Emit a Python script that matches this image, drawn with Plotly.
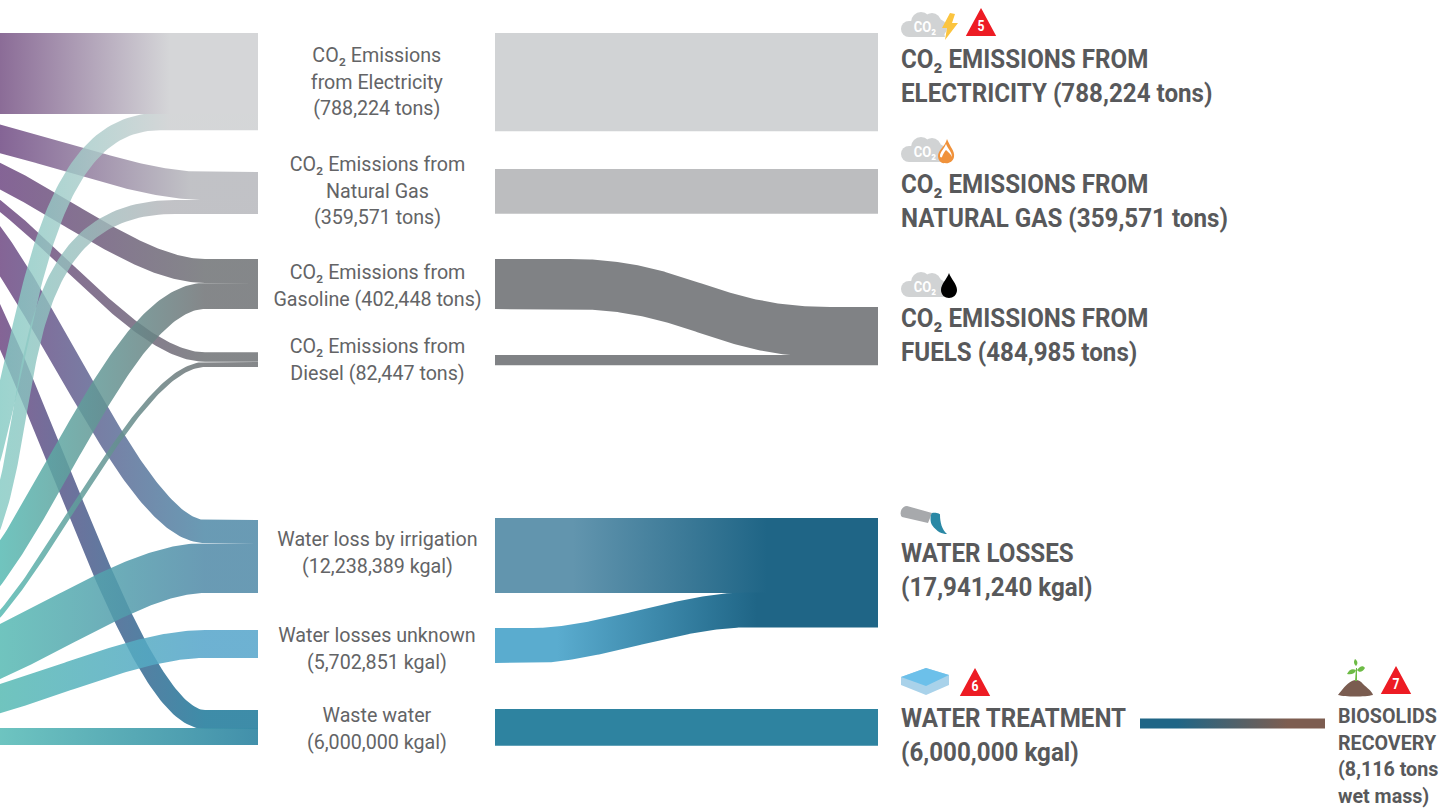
import numpy as np
import plotly.graph_objects as go

FONT = "Roboto"
TONS_PER_PX = 8030.0
KGAL_PER_PX = 163000.0

# ---- data: flows (left panel), in the unit of each block
co2_sources = ["Electricity", "Natural Gas", "Gasoline", "Diesel"]
co2_from_a = [650000, 225000, 193000, 76000]
co2_from_b = [140000, 112000, 209000, 40000]
water_sources = ["Water loss by irrigation", "Water losses unknown", "Waste water"]
water_from_a = [3750000, 0, 3100000]
water_from_b = [8150000, 4560000, 2770000]
# ---- data: nodes (middle panel)
co2_node_tons = [788224, 359571, 402448, 82447]
co2_fuels_tons = 484985
water_node_kgal = [12238389, 5702851, 6000000]
water_losses_kgal = 17941240
biosolids_tons = 8116

mid_labels = [
    ("CO₂ Emissions<br>from Electricity<br>(788,224 tons)", 81),
    ("CO₂ Emissions from<br>Natural Gas<br>(359,571 tons)", 190),
    ("CO₂ Emissions from<br>Gasoline (402,448 tons)", 285),
    ("CO₂ Emissions from<br>Diesel (82,447 tons)", 359),
    ("Water loss by irrigation<br>(12,238,389 kgal)", 552),
    ("Water losses unknown<br>(5,702,851 kgal)", 648),
    ("Waste water<br>(6,000,000 kgal)", 728),
]
right_labels = [
    ("CO₂ EMISSIONS FROM<br>ELECTRICITY (788,224 tons)", 899, 76),
    ("CO₂ EMISSIONS FROM<br>NATURAL GAS (359,571 tons)", 899, 201),
    ("CO₂ EMISSIONS FROM<br>FUELS (484,985 tons)", 899, 335),
    ("WATER LOSSES<br>(17,941,240 kgal)", 899, 570),
    ("WATER TREATMENT<br>(6,000,000 kgal)", 899, 735),
]


def bez(p0, p1, p2, p3, n=120):
    t = np.linspace(0, 1, n)[:, None]
    p0, p1, p2, p3 = map(np.array, (p0, p1, p2, p3))
    return (1-t)**3*p0 + 3*(1-t)**2*t*p1 + 3*(1-t)*t**2*p2 + t**3*p3


def ribbon(fig, x0, y0, x1, y1, w, c0, c1, xend, colors, grad, name, xstart=None, taper=1.0, vertical=False):
    d = x1 - x0
    pts = bez((x0, y0), (x0+c0*d, y0), (x1-c1*d, y1), (x1, y1))
    ws = np.linspace(w*taper, w, len(pts))
    if xstart is not None:
        pts = np.vstack([[xstart, y0], pts])
        ws = np.r_[ws[0], ws]
    pts = np.vstack([pts, [xend, y1]])
    ws = np.r_[ws, w]
    if vertical:
        nor = np.c_[np.zeros(len(pts)), np.ones(len(pts))]
    else:
        tan = np.gradient(pts, axis=0)
        tan /= np.maximum(np.linalg.norm(tan, axis=1, keepdims=True), 1e-9)
        nor = np.c_[-tan[:, 1], tan[:, 0]]
    up = pts + nor*ws[:, None]/2
    lo = pts - nor*ws[:, None]/2
    xs = np.r_[up[:, 0], lo[::-1, 0], up[0, 0]]
    ys = np.r_[up[:, 1], lo[::-1, 1], up[0, 1]]
    fig.add_trace(go.Scatter(
        x=xs, y=ys, mode="lines", line=dict(width=0), fill="toself", name=name,
        hoverinfo="name", showlegend=False,
        fillgradient=dict(type="horizontal", colorscale=colors, start=grad[0], stop=grad[1]),
    ))


def cs(a, b, alpha=0.85):
    # a and b are the looks wanted on white; undo the white showing through
    def fix(c):
        v = [max(0, min(255, (p - 255*(1-alpha))/alpha)) for p in c]
        return f"rgba({v[0]:.0f},{v[1]:.0f},{v[2]:.0f},{alpha})"
    return [[0, fix(a)], [1, fix(b)]]


fig = go.Figure()
PUR = (133, 100, 150)
TEAL = (112, 196, 190)
LTEAL = (155, 212, 206)
LG = (213, 214, 216)
MG = (193, 194, 198)
DG = (133, 135, 138)
WB = (105, 155, 180)
W2 = (110, 178, 210)
W3 = (62, 140, 168)

Xp, Xt = -75, -85
# purple-origin ribbons
ribbon(fig, Xp, 128, 205, 186, co2_from_a[1]/TONS_PER_PX, .3, .3, 258, cs(PUR, MG), (0, 190), "Natural gas a")
ribbon(fig, Xp, 154, 205, 271, co2_from_a[2]/TONS_PER_PX, .3, .3, 258, cs(PUR, DG), (0, 205), "Gasoline a")
ribbon(fig, Xp, 171, 205, 357, co2_from_a[3]/TONS_PER_PX, .3, .3, 258, cs(PUR, DG), (0, 205), "Diesel a")
ribbon(fig, Xp, 186, 205, 531.5, water_from_a[0]/KGAL_PER_PX, .3, .3, 258, cs(PUR, WB), (0, 205), "Irrigation a", taper=1.35)
ribbon(fig, -90, 207, 205, 719.5, water_from_a[2]/KGAL_PER_PX, .3, .3, 258, cs(PUR, W3), (0, 205), "Waste a")
# teal-origin ribbons
ribbon(fig, -120, 612, 175, 207, co2_from_b[1]/TONS_PER_PX, .735, .80, 258, cs(LTEAL, MG, .8), (0, 165), "Natural gas b")
ribbon(fig, -120, 596, 160, 121.5, co2_from_b[0]/TONS_PER_PX, .603, .653, 258, cs(LTEAL, LG, .8), (0, 170), "Electricity b", taper=1.15)
ribbon(fig, Xt, 632, 205, 296, co2_from_b[2]/TONS_PER_PX, .35, .35, 258, cs(TEAL, DG), (0, 205), "Gasoline b")
ribbon(fig, -60, 655, 205, 364.5, co2_from_b[3]/TONS_PER_PX, .3, .3, 258, cs(TEAL, DG), (0, 205), "Diesel b")
ribbon(fig, Xt, 675, 205, 568, water_from_b[0]/KGAL_PER_PX, .3, .3, 258, cs(TEAL, WB), (0, 205), "Irrigation b")
ribbon(fig, Xt, 714, 205, 644, water_from_b[1]/KGAL_PER_PX, .3, .3, 258, cs(TEAL, W2), (0, 205), "Unknown")


def band(fig, x0, x1, y0, h, colors, grad, name):
    fig.add_trace(go.Scatter(
        x=[x0, x1, x1, x0, x0], y=[y0, y0, y0+h, y0+h, y0], mode="lines", line=dict(width=0),
        fill="toself", name=name, hoverinfo="name", showlegend=False,
        fillgradient=dict(type="horizontal", colorscale=colors, start=grad[0], stop=grad[1]),
    ))


band(fig, -10, 258, 33, co2_from_a[0]/TONS_PER_PX, cs((139, 108, 151), (213, 214, 216), 1), (0, 170), "Electricity a")
band(fig, -10, 258, 728, water_from_b[2]/KGAL_PER_PX, cs((110, 196, 192), (66, 144, 170), .95), (0, 258), "Waste b")


def solid(c):
    return [[0, c], [1, c]]


# middle panel
band(fig, 495, 878, 33, co2_node_tons[0]/TONS_PER_PX, solid("#d1d3d5"), (495, 878), "Electricity")
band(fig, 495, 878, 169, co2_node_tons[1]/TONS_PER_PX, solid("#bcbdbf"), (495, 878), "Natural gas")
gw = co2_node_tons[2]/TONS_PER_PX
dw = co2_node_tons[3]/TONS_PER_PX
ribbon(fig, 570, 259+gw/2, 830, 307+gw/2, gw, .45, .45, 878, solid("#808285"), (495, 878), "Gasoline", xstart=495, vertical=True)
band(fig, 495, 878, 355, dw, solid("#808285"), (495, 878), "Diesel")
iw = water_node_kgal[0]/KGAL_PER_PX
uw = water_node_kgal[1]/KGAL_PER_PX
band(fig, 495, 878, 518, iw, [[0, "#6295ae"], [1, "#1f6586"]], (573, 767), "Irrigation")
ribbon(fig, 533, 628+uw/2, 745, 592.5+uw/2, uw, .3, .3, 878, [[0, "#5aaccf"], [1, "#1f6586"]], (557, 757), "Unknown m", xstart=495, vertical=True)
band(fig, 495, 878, 709, water_node_kgal[2]/KGAL_PER_PX, solid("#2e83a0"), (495, 878), "Waste water")
band(fig, 1140, 1325, 718.5, biosolids_tons/812, [[0, "#1f6586"], [.2, "#1f6586"], [.8, "#7d5d50"], [1, "#7d5d50"]], (1140, 1325), "Biosolids")

# text
ann = []
for t, y in mid_labels:
    ann.append(dict(x=377, y=y, text=t, showarrow=False, xanchor="center", yanchor="middle",
                    font=dict(family=FONT, size=20.5, color="#636466")))
for t, x, y in right_labels:
    ann.append(dict(x=x, y=y, text=t, showarrow=False, xanchor="left", yanchor="middle", align="left",
                    font=dict(family=FONT, size=26, color="#58595b", weight="bold")))
ann.append(dict(x=1336, y=755.5, text="BIOSOLIDS<br>RECOVERY<br>(8,116 tons<br>wet mass)", showarrow=False,
                xanchor="left", yanchor="middle", align="left",
                font=dict(family=FONT, size=20.5, color="#58595b", weight="bold")))

# icons
shapes = []
def path(d, c):
    shapes.append(dict(type="path", path=d, fillcolor=c, line=dict(width=0), xref="x", yref="y", layer="above"))
def circ(cx, cy, r, c):
    shapes.append(dict(type="circle", x0=cx-r, x1=cx+r, y0=cy-r, y1=cy+r, fillcolor=c, line=dict(width=0), xref="x", yref="y", layer="above"))

def cloud(x, y):
    c = "#d1d3d4"
    circ(x+8, y+17, 8, c); circ(x+20, y+10, 10, c); circ(x+31, y+10, 9, c); circ(x+37, y+16, 9, c)
    path(f"M{x+8},{y+9} L{x+40},{y+9} L{x+44},{y+25} L{x+8},{y+25} Z", c)
    ann.append(dict(x=x+24, y=y+15, text="CO₂", showarrow=False, font=dict(family=FONT, size=15, color="white", weight="bold")))

def tri(cx, top, n):
    w = 14.5; h = 27
    shapes.append(dict(type="path", path=f"M{cx},{top+1} L{cx+w-1},{top+h-1} L{cx-w+1},{top+h-1} Z", fillcolor="#ed1c24",
                       line=dict(width=2, color="#ed1c24"), xref="x", yref="y", layer="above"))
    ann.append(dict(x=cx, y=top+17, text=str(n), showarrow=False, font=dict(family=FONT, size=14, color="white", weight="bold")))

cloud(901, 12)
path("M950,13 L942,28 L947,28 L945,40 L958,23 L952,23 L955,14 Z", "#fbc43f")
tri(981, 9, 5)
cloud(901, 137)
path("M947,139 C950,147 955,151 954,157 C953,162 948,164 945,163 C941,164 938,160 938,156 C938,150 945,147 947,139 Z", "#f0923b")
path("M946,144 C944,149 940,152 940,156 C940,157 941,158 942,157 C943,154 945,151 946,150 C948,152 951,154 952,157 C952,152 948,149 946,144 Z", "white")
cloud(901, 272)
path("M949,273 C951,279 957,284 957,290 C957,295 953,298 949,298 C945,298 941,295 941,290 C941,284 947,279 949,273 Z", "black")

# pipe
path("M907,506 L932,513 L928,523 L902,517 C899,514 901,506 907,506 Z", "#a7a9ac")
path("M932,513 C936,512 941,514 940,515 C940,522 942,530 947,534 C942,534 937,532 932,525 C930,522 930,515 932,513 Z", "#2a88a5")
# water slab
path("M901,677 L926,668 L949,675 L949,685 L926,695 L901,685 Z", "#a9d2ea")
path("M901,677 L926,668 L949,675 L926,686 Z", "#6cc0ea")
tri(975, 669, 6)
# plant
path("M1338,695 C1342,690 1346,684 1352,681 C1356,679 1360,680 1363,684 C1367,688 1372,691 1373,695 C1365,697 1345,697 1338,695 Z", "#7a5c50")
path("M1355,681 L1356,668 L1357,668 L1357,681 Z", "#6dbb45")
path("M1356,670 C1352,668 1349,670 1347,674 C1351,675 1355,674 1356,670 Z", "#6dbb45")
path("M1357,670 C1360,666 1363,665 1365,668 C1363,672 1359,673 1357,670 Z", "#6dbb45")
path("M1356,666 C1353,663 1354,661 1355,659 C1358,661 1358,664 1356,666 Z", "#6dbb45")
tri(1396, 667, 7)

fig.update_layout(
    width=1454, height=809, margin=dict(l=0, r=0, t=0, b=0),
    paper_bgcolor="white", plot_bgcolor="white", annotations=ann, shapes=shapes,
    xaxis=dict(range=[0, 1454], visible=False, fixedrange=True),
    yaxis=dict(range=[809, 0], visible=False, fixedrange=True),
)
# the reference face is a condensed cut: narrow every text about its own anchor
post = """
document.body.style.margin='0';document.body.style.overflow='hidden';
document.querySelectorAll('text.annotation-text').forEach(function(t){
  var x=parseFloat(t.getAttribute('x'))||0, fs=parseFloat(t.style.fontSize), s=0.96;
  if(fs===26) s=0.93;
  if(fs<20) s=0.87;
  t.setAttribute('transform','translate('+x+',0) scale('+s+',1) translate('+(-x)+',0)');
});
"""
fig.write_html("out.html", config={"displayModeBar": False}, post_script=post)
